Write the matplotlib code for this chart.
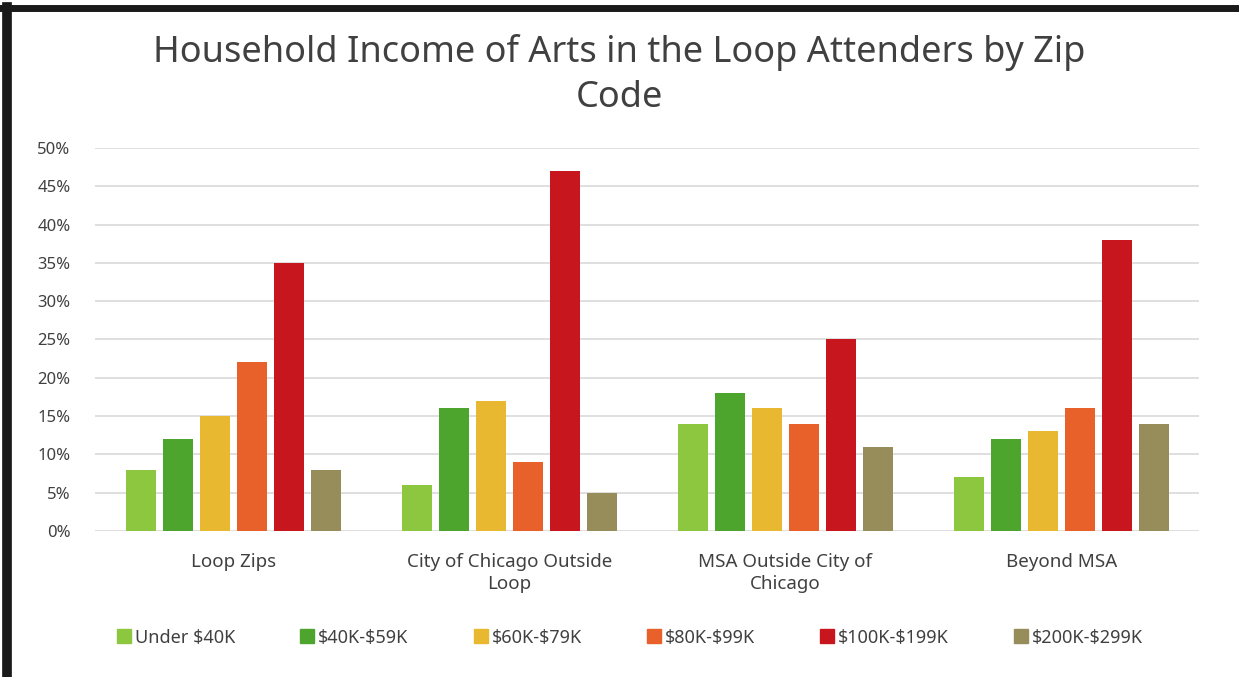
import numpy as np
import matplotlib
matplotlib.use("Agg")
import matplotlib.pyplot as plt
from matplotlib.lines import Line2D

plt.rcParams["font.family"] = ["Noto Sans", "DejaVu Sans"]
plt.rcParams["text.parse_math"] = False

categories = ["Loop Zips", "City of Chicago Outside\nLoop",
              "MSA Outside City of\nChicago", "Beyond MSA"]
series = ["Under $40K", "$40K-$59K", "$60K-$79K", "$80K-$99K",
          "$100K-$199K", "$200K-$299K"]
under_40k = [0.08, 0.06, 0.14, 0.07]
k40_59 = [0.12, 0.16, 0.18, 0.12]
k60_79 = [0.15, 0.17, 0.16, 0.13]
k80_99 = [0.22, 0.09, 0.14, 0.16]
k100_199 = [0.35, 0.47, 0.25, 0.38]
k200_299 = [0.08, 0.05, 0.11, 0.14]
values = [under_40k, k40_59, k60_79, k80_99, k100_199, k200_299]
colours = ["#8DC63F", "#4EA52E", "#E8B831", "#E8602A", "#C8161E", "#968D5A"]
y_ticks = np.arange(0, 0.51, 0.05)

fig = plt.figure(figsize=(12.39, 6.77), dpi=100)
ax = fig.add_axes([0.077, 0.2157, 0.891, 0.5657])

x = np.arange(len(categories))
width = 0.107
pitch = 0.134
for i, (vals, col) in enumerate(zip(values, colours)):
    offs = (i - 2.5) * pitch
    ax.bar(x + offs, vals, width, color=col, label=series[i], zorder=3)

ax.set_xlim(-0.5, len(categories) - 0.5)
ax.set_ylim(0, 0.5)
ax.set_yticks(y_ticks)
ax.set_yticklabels([f"{int(round(t * 100))}%" for t in y_ticks],
                   fontsize=12, color="#404040")
ax.set_xticks(x)
ax.set_xticklabels(categories, fontsize=13.5, color="#404040",
                   linespacing=1.3)
ax.tick_params(axis="both", length=0)
ax.tick_params(axis="x", pad=16)
ax.tick_params(axis="y", pad=18)
ax.yaxis.grid(True, color="#D9D9D9", lw=1.2, zorder=0)
for s in ax.spines.values():
    s.set_visible(False)

fig.text(0.5, 0.922, "Household Income of Arts in the Loop Attenders by Zip",
         ha="center", va="center", fontsize=26, color="#404040")
fig.text(0.5, 0.855, "Code", ha="center", va="center", fontsize=26,
         color="#404040")

handles = [Line2D([], [], marker="s", ls="", color=c, markersize=10)
           for c in colours]
fig.legend(handles, series, loc="center", bbox_to_anchor=(0.507, 0.058),
           ncol=6, frameon=False, fontsize=13, handletextpad=0.0,
           handlelength=1.2, columnspacing=3.4, labelcolor="#404040")

# black frame on top and left edges
fig.add_artist(Line2D([0.006, 0.006], [0, 0.99], color="#1a1a1a", lw=7,
                      transform=fig.transFigure))
fig.add_artist(Line2D([0.0, 1.0], [0.988, 0.988], color="#1a1a1a", lw=5,
                      transform=fig.transFigure))

fig.savefig("out.png", dpi=100)
